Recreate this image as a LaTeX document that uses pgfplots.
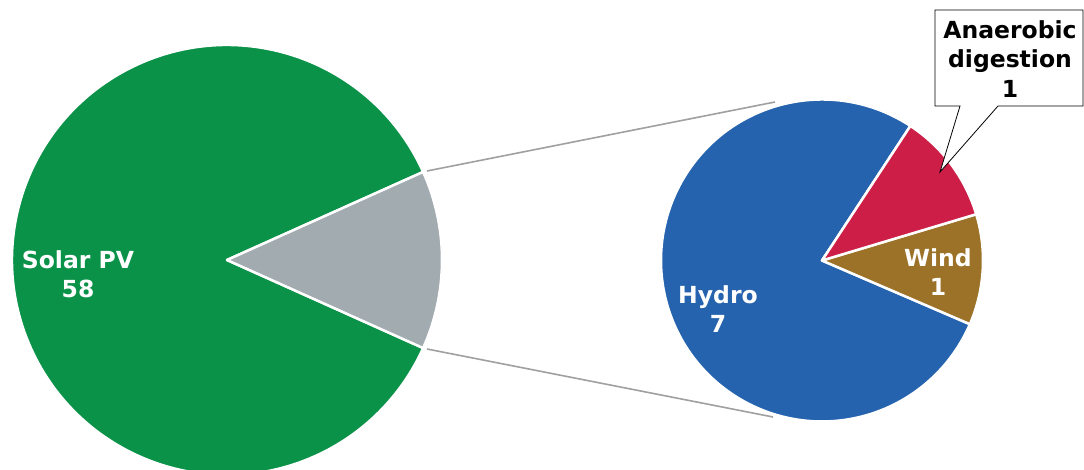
\documentclass[border=0pt]{standalone}
\usepackage{pgfplots}
\pgfplotsset{compat=1.18}
\usepackage{fontspec}
\setmainfont{DejaVu Sans}
\definecolor{cSolar}{RGB}{10,146,72}
\definecolor{cOther}{RGB}{162,171,176}
\definecolor{cHydro}{RGB}{37,99,174}
\definecolor{cAD}{RGB}{204,30,71}
\definecolor{cWind}{RGB}{156,114,41}
\definecolor{cLine}{RGB}{160,160,160}
% data (GW)
\def\vSolar{58}
\def\vHydro{7}
\def\vWind{1}
\def\vAD{1}
\begin{document}
\begin{tikzpicture}
\pgfmathsetmacro\vOther{\vHydro+\vWind+\vAD}
\pgfmathsetmacro\vTotal{\vSolar+\vOther}
\pgfmathsetmacro\aOther{360*\vOther/\vTotal}
\pgfmathsetmacro\aS{\aOther/2}
\pgfmathsetmacro\aE{360-\aOther/2}
% second pie
\pgfmathsetmacro\hStart{56.7}
\pgfmathsetmacro\hEnd{\hStart+360*\vHydro/\vOther}
\pgfmathsetmacro\wEnd{\hEnd+360*\vWind/\vOther}
\pgfmathsetmacro\dEnd{\wEnd+360*\vAD/\vOther}
\begin{axis}[x=1pt,y=1pt,xmin=0,xmax=1084,ymin=0,ymax=470,hide axis,clip=false]
% connector lines
\draw[cLine,line width=1.6pt] (427,299) -- (775,368);
\draw[cLine,line width=1.6pt] (427,121) -- (773,53);
\tikzset{slice/.style={draw=white,line width=2.5pt,line join=round}}
% left pie
\fill[cSolar,slice] (227,210) -- ++(\aS:215pt) arc[start angle=\aS,end angle=\aE,radius=215pt] -- cycle;
\fill[cOther,slice] (227,210) -- ++(-\aS:215pt) arc[start angle=-\aS,end angle=\aS,radius=215pt] -- cycle;
% right pie
\fill[cHydro,slice] (822,209.5) -- ++(\hStart:161pt) arc[start angle=\hStart,end angle=\hEnd,radius=161pt] -- cycle;
\fill[cWind,slice] (822,209.5) -- ++(\hEnd:161pt) arc[start angle=\hEnd,end angle=\wEnd,radius=161pt] -- cycle;
\fill[cAD,slice] (822,209.5) -- ++(\wEnd:161pt) arc[start angle=\wEnd,end angle=\dEnd,radius=161pt] -- cycle;
% labels
\tikzset{lab/.style={align=center,inner sep=0pt,font=\fontsize{23.5}{29.5}\selectfont\bfseries}}
\node[lab,white] at (78,196) {Solar PV\\\vSolar};
\node[lab,white] at (718,161) {Hydro\\\vHydro};
\node[lab,white] at (938,198) {Wind\\\vWind};
% callout
\draw[black,fill=white,line width=0.8pt] (935,460) -- (1083,460) -- (1083,364) -- (998,364) -- (940,298) -- (960,364) -- (935,364) -- cycle;
\node[lab,black] at (1010,411) {Anaerobic\\digestion\\\vAD};
\end{axis}
\pgfresetboundingbox
\useasboundingbox (current axis.south west) rectangle (current axis.north east);
\end{tikzpicture}
\end{document}
